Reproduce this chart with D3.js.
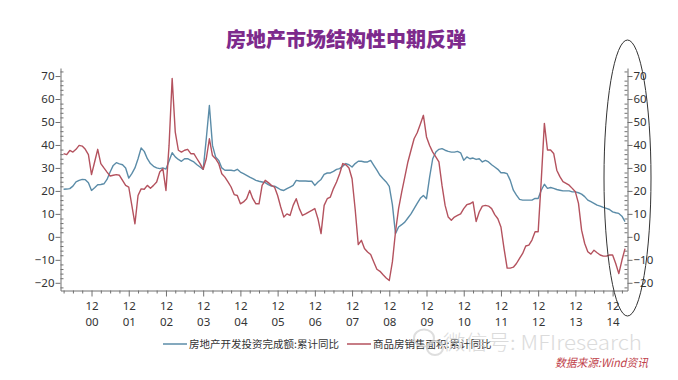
<!DOCTYPE html>
<html><head><meta charset="utf-8">
<script src="https://cdn.jsdelivr.net/npm/d3@7"></script>
<style>body{margin:0;background:#fff}svg{display:block}</style>
</head><body><svg id="c" width="678" height="380"></svg>
<script>
const title = "房地产市场结构性中期反弹";
const seriesNames = ["房地产开发投资完成额:累计同比", "商品房销售面积:累计同比"];
const firstMonth = [2000, 3];          // first data point: Mar 2000
const axisStartMonth = [2000, 2];      // left edge of axis: Feb 2000
const axisEndIndex = 182.8;

// 房地产开发投资完成额:累计同比 (%)
const investment = [
  20.7, 20.8, 21, 22.1, 23.9, 24.6, 25, 24.9, 23.6, 20.2, 21.4, 22.7,
  22.8, 23.1, 25, 28.2, 31.1, 32.3, 31.8, 31.4, 30, 25.6, 27.5, 30,
  34, 38.7, 37.2, 34, 31.9, 30.7, 30, 29.7, 30, 29.5, 33, 36.6,
  34.8, 33.7, 32.9, 34, 34, 33.3, 32.6, 31.4, 30.4, 29.4, 42.7, 57.2,
  39.8, 34.8, 33.3, 30, 29, 29, 29, 28.7, 29.4, 28.2, 27.5, 26.8,
  26, 25.3, 24.6, 24.2, 23.9, 23.6, 22.7, 22.1, 22.1, 21.3, 20.5, 20.2,
  21, 21.7, 22.4, 24.6, 24.3, 24.3, 24.3, 24.2, 24.2, 22.4, 23.9, 25,
  27.2, 27.8, 27.8, 28.5, 29.4, 29.7, 30.8, 31.9, 31.4, 30.4, 31.9, 32.9,
  32.9, 32.6, 32.6, 33.3, 31.1, 29, 26.8, 25.3, 23.9, 22, 14, 1.4,
  4.3, 5.3, 6.4, 8.2, 10, 12.3, 14.6, 16.8, 18, 16.6, 26, 34,
  36.9, 38.1, 38.4, 37.7, 37.2, 36.9, 36.9, 37.2, 36.6, 33.3, 34.8, 34,
  34.3, 33.7, 34, 32.6, 33.3, 32.6, 31.4, 30.4, 29.4, 27.9, 27.9, 27.5,
  24.6, 20.3, 18.2, 16.3, 16, 16, 16, 16, 16.7, 16.7, 20.3, 22.9,
  21.1, 21.5, 21.1, 20.6, 20.3, 20, 20, 20, 19.6, 19.6, 19.2, 18.6,
  17.5, 16, 15.3, 14.6, 13.8, 13.4, 12.8, 12.4, 11.9, 10.9, 10.5, 10.2,
  9, 6.6
];
// 商品房销售面积:累计同比 (%)
const salesArea = [
  36.2, 35.8, 37.6, 36.9, 38.1, 39.8, 39.5, 38.1, 35.8, 27.1, 32.6, 38.1,
  31.9, 30, 28.2, 26.5, 26.8, 27.1, 26.8, 24.6, 22.4, 21.7, 13.7, 5.7,
  18, 20.9, 20.7, 22.4, 21.2, 22.4, 23.9, 28.2, 29.7, 20.2, 39.8, 68.9,
  45.6, 37.7, 36.9, 37.7, 38.1, 36.2, 36.2, 34, 31.9, 29.4, 34, 42.7,
  35.4, 34, 31.9, 27.5, 26, 23.9, 21.7, 18.4, 18, 14.4, 15.2, 16.6,
  20.2, 16.6, 14.4, 14.4, 22.4, 24.6, 23.6, 22.4, 21.7, 18, 13, 8.6,
  10, 9.3, 13.7, 16.6, 12.3, 9.3, 10, 10.8, 11.5, 12.3, 7.9, 1.4,
  13.7, 16.6, 17.3, 21, 23.9, 27.5, 31.9, 31.4, 30, 25.3, 12, -3.4,
  -1.5, -5.1, -6.6, -7.7, -10.9, -14.1, -15, -16.5, -17.9, -19, -10.9, 2.1,
  12.3, 19.5, 26, 32.6, 37.7, 42.7, 45.3, 49, 52.9, 43.5, 39.8, 36.9,
  34.8, 32.6, 22.4, 13.7, 8.6, 7.2, 8.6, 9.3, 10, 12.3, 14, 14.4,
  15.2, 6.7, 10.8, 13.4, 13.7, 13.4, 12.3, 9.7, 7.9, 4.3, -5.1, -13.6,
  -13.6, -13.2, -11.6, -9.4, -7.2, -4, -3.6, -1.4, 2.2, 2.2, 24.7, 49.4,
  37.8, 37.8, 36.3, 29, 26.2, 24, 23.3, 22.5, 21.1, 19.6, 14.6, 2.9,
  -2.9, -6.5, -7.5, -5.8, -6.9, -7.9, -8.4, -8.4, -7.9, -7.9, -11.6, -16,
  -10.2, -5.1
];
const yTicks = [-20, -10, 0, 10, 20, 30, 40, 50, 60, 70];
const yMinorTicks = [-22, -18, -16, -14, -12, -8, -6, -4, -2, 2, 4, 6, 8, 12, 14, 16, 18, 22, 24, 26, 28,
  32, 34, 36, 38, 42, 44, 46, 48, 52, 54, 56, 58, 62, 64, 66, 68, 72];
const xYearLabels = ["00","01","02","03","04","05","06","07","08","09","10","11","12","13","14"];
const xMonthLabel = "12";
const sourceText = "数据来源:Wind资讯";
const watermark = "微信号: MFIresearch";

const colors = ["#5b8ca8", "#b4525e"];

// month index relative to Feb 2000
const mIdx = (y, m) => (y - axisStartMonth[0]) * 12 + (m - axisStartMonth[1]);
const firstIdx = mIdx(firstMonth[0], firstMonth[1]);

const svg = d3.select("#c");
svg.append("rect").attr("width", 678).attr("height", 380).attr("fill", "#fff");

const x = d3.scaleLinear().domain([0, axisEndIndex]).range([60.5, 627.5]);
const y = d3.scaleLinear().domain([-23.35, 73.5]).range([290.5, 68]);

const font = "'Noto Sans', 'Liberation Sans', sans-serif";
const cjk = "'Noto Sans CJK SC', sans-serif";

// title
svg.append("text").attr("x", 346).attr("y", 47).attr("text-anchor", "middle")
  .attr("font-family", cjk).attr("font-weight", 900).attr("font-size", 20)
  .attr("fill", "#7d2a8c").text(title);

// axes
function styleAxis(g) {
  g.selectAll("path.domain").attr("stroke", "#707070");
  g.selectAll(".tick line").attr("stroke", "#707070");
  g.selectAll(".tick text").attr("fill", "#333").attr("font-family", font).attr("font-size", 11.5);
}
const gl = svg.append("g").attr("transform", "translate(60.5,0)")
  .call(d3.axisLeft(y).tickValues(yTicks).tickSize(5).tickSizeOuter(0).tickPadding(1).tickFormat(d3.format("d")));
styleAxis(gl);
const glm = svg.append("g").attr("transform", "translate(60.5,0)")
  .call(d3.axisRight(y).tickValues(yMinorTicks).tickSize(3).tickFormat(""));
glm.select("path.domain").remove(); styleAxis(glm);

const gr = svg.append("g").attr("transform", "translate(627.5,0)")
  .call(d3.axisRight(y).tickValues(yTicks).tickSize(5).tickSizeOuter(0).tickPadding(1).tickFormat(d3.format("d")));
styleAxis(gr);
const grm = svg.append("g").attr("transform", "translate(627.5,0)")
  .call(d3.axisLeft(y).tickValues(yMinorTicks).tickSize(3).tickFormat(""));
grm.select("path.domain").remove(); styleAxis(grm);

// bottom axis: quarterly minor ticks, December major ticks with labels
const decIdx = xYearLabels.map(s => mIdx(2000 + (+s), 12));
const quarterIdx = d3.range(firstIdx, axisEndIndex, 3).filter(i => !decIdx.includes(i));
const gb = svg.append("g").attr("transform", "translate(0,290.5)")
  .call(d3.axisBottom(x).tickValues(quarterIdx).tickSize(3).tickSizeOuter(0).tickFormat(""));
styleAxis(gb);
const gbm = svg.append("g").attr("transform", "translate(0,290.5)")
  .call(d3.axisBottom(x).tickValues(decIdx).tickSize(6).tickFormat(""));
gbm.select("path.domain").remove(); styleAxis(gbm);
gbm.selectAll(".tick").each(function(d, k) {
  const t = d3.select(this).append("text").attr("fill", "#333").attr("font-family", font)
    .attr("font-size", 11.5).attr("text-anchor", "middle");
  t.append("tspan").attr("x", 0).attr("y", 19).text(xMonthLabel);
  t.append("tspan").attr("x", 0).attr("y", 35).text(xYearLabels[k]);
});

// lines
const line = d3.line().x((d, k) => x(firstIdx + k)).y(d => y(d));
[investment, salesArea].forEach((s, k) => {
  svg.append("path").datum(s).attr("d", line).attr("fill", "none")
    .attr("stroke", colors[k]).attr("stroke-width", 1.4).attr("stroke-linejoin", "round");
});

// legend
const leg = [{x1: 163, x2: 187, tx: 189}, {x1: 347, x2: 371, tx: 373}];
leg.forEach((l, k) => {
  svg.append("line").attr("x1", l.x1).attr("x2", l.x2).attr("y1", 344).attr("y2", 344)
    .attr("stroke", colors[k]).attr("stroke-width", 1.5);
  svg.append("text").attr("x", l.tx).attr("y", 348).attr("font-family", cjk)
    .attr("font-size", 10.5).attr("fill", "#333").text(seriesNames[k]);
});

// watermark
const wm = svg.append("g").attr("opacity", 0.75);
wm.append("ellipse").attr("cx", 424).attr("cy", 338).attr("rx", 10).attr("ry", 8.5)
  .attr("fill", "none").attr("stroke", "#d4d4d4").attr("stroke-width", 2);
wm.append("ellipse").attr("cx", 435).attr("cy", 348).attr("rx", 8).attr("ry", 7)
  .attr("fill", "none").attr("stroke", "#d4d4d4").attr("stroke-width", 2);
wm.append("text").attr("x", 443).attr("y", 350).attr("font-family", cjk).attr("font-weight", 300)
  .attr("font-size", 20).attr("fill", "#d0d0d0")
  .attr("textLength", 199).attr("lengthAdjust", "spacingAndGlyphs").text(watermark);

// source
svg.append("text").attr("x", 555).attr("y", 367).attr("font-family", cjk).attr("font-style", "italic")
  .attr("font-size", 11.5).attr("fill", "#c0414a")
  .attr("textLength", 93).attr("lengthAdjust", "spacingAndGlyphs").text(sourceText);

// hand-drawn ellipse around right axis
svg.append("ellipse").attr("cx", 627.5).attr("cy", 178).attr("rx", 23.5).attr("ry", 138)
  .attr("fill", "none").attr("stroke", "#333").attr("stroke-width", 1);
</script>
</body></html>
